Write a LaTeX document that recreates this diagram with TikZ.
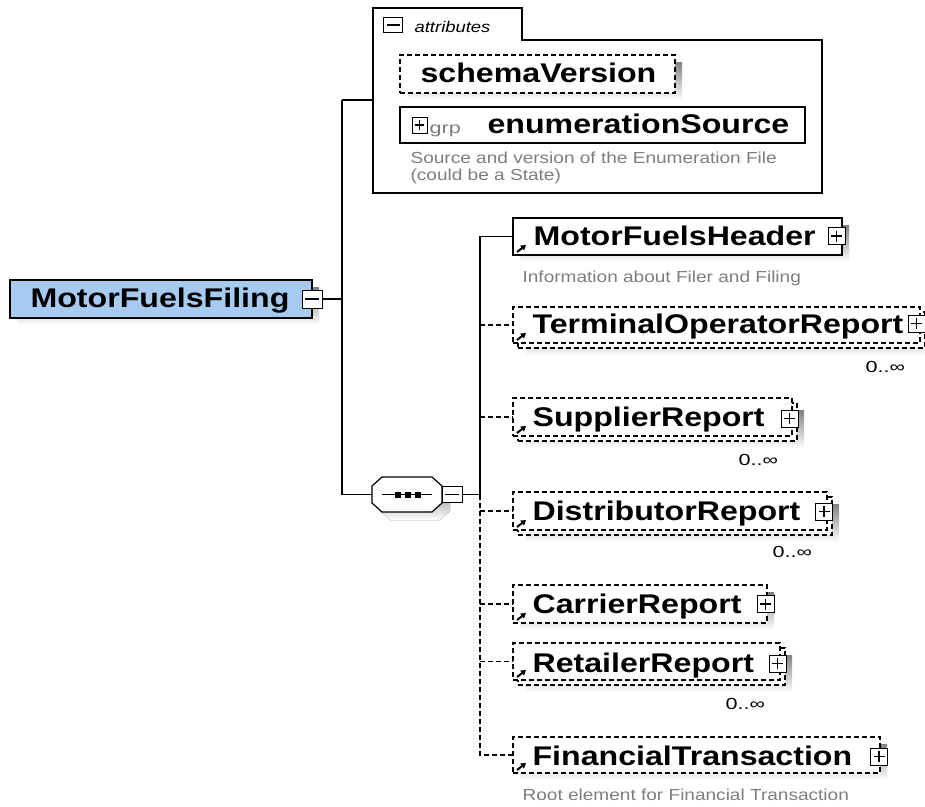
\documentclass[tikz,border=0pt]{standalone}
\usepackage{fontspec}
\setmainfont{Liberation Sans}
\newfontfamily\lsans[FakeStretch=1.19]{Liberation Sans}
\newfontfamily\lwide[FakeStretch=1.35]{Liberation Sans}
\usetikzlibrary{arrows.meta,calc}
\definecolor{fillblue}{RGB}{166,202,240}
\definecolor{shade}{RGB}{192,192,192}
\definecolor{desc}{RGB}{125,125,125}
\begin{document}
\begin{tikzpicture}[x=1pt,y=-1pt,line width=1.2pt,
  big/.style={font=\fontsize{27}{30}\selectfont\lsans\bfseries,inner sep=0,anchor=base west},
  small/.style={font=\fontsize{16}{19}\selectfont\lsans,text=desc,inner sep=0,anchor=base west},
  occ/.style={font=\fontsize{16}{18}\selectfont\lwide,inner sep=0,anchor=base west},
  ebox/.style={draw,fill=white,anchor=north west,inner sep=0,outer sep=0},
  dbox/.style={ebox,dash pattern=on 5pt off 3pt},
  dline/.style={dash pattern=on 5pt off 3pt},
  pmbox/.style={draw,fill=white,line width=1pt,inner sep=0,outer sep=0,minimum width=17pt,minimum height=17pt,
    path picture={\draw[line width=1.2pt,shorten <=3pt,shorten >=3pt] (path picture bounding box.west) -- (path picture bounding box.east);}},
  plusbox/.style={pmbox,
    path picture={\draw[line width=1.2pt,shorten <=3pt,shorten >=3pt] (path picture bounding box.west) -- (path picture bounding box.east);
      \draw[line width=1.2pt,shorten <=3pt,shorten >=3pt] (path picture bounding box.north) -- (path picture bounding box.south);}},
  refarrow/.style={-{Triangle[length=5pt,width=6pt]},line width=2pt}
]
\useasboundingbox (0,0) rectangle (925,806);

% ---------- root element ----------
\fill[shade] (17,287) rectangle (319,325);
\node[ebox,fill=fillblue,minimum width=302pt,minimum height=38pt] (mff) at (10,280) {};
\node[big] (mfft) at (30,307) {MotorFuelsFiling};
\node[pmbox,minimum width=20pt,minimum height=18pt] (mffm) at (312,299) {};

% ---------- attributes ----------
\draw (373,193) -- (373,8) -- (522,8) -- (522,40) -- (822,40) -- (822,193) -- cycle;
\coordinate (attL) at (373,100);
\node[pmbox,minimum width=19pt,minimum height=15pt] (attm) at (393,25) {};
\node[font=\fontsize{15.5}{18}\selectfont\lsans\itshape,inner sep=0,anchor=base west] (attt) at (414,32) {attributes};

\fill[shade] (407,62) rectangle (682,100);
\node[dbox,minimum width=275pt,minimum height=38pt] (sv) at (400,55) {};
\node[big] (svt) at (420,82) {schemaVersion};

\node[ebox,minimum width=405pt,minimum height=36pt] (es) at (400,107) {};
\node[plusbox,minimum width=15pt,minimum height=16pt] (esp) at (419.5,125) {};
\node[small,font=\fontsize{16}{19}\selectfont\lwide] (grp) at (429,133) {grp};
\node[big] (est) at (487,133) {enumerationSource};
\node[small] (esd1) at (410,163) {Source and version of the Enumeration File};
\node[small] (esd2) at (410,180) {(could be a State)};

% ---------- sequence compositor ----------
\fill[shade] (380,493) -- (390,485) -- (440,485) -- (450,493) -- (450,511) -- (440,520) -- (390,520) -- (380,511) -- cycle;
\draw[fill=white] (372,486) -- (382,477) -- (432,477) -- (442,486) -- (442,503) -- (432,512) -- (382,512) -- (372,503) -- cycle;
\coordinate (seqL) at (372,494.5);
\draw[line width=1pt] (382,494.5) -- (432,494.5);
\foreach \sx in {397.5,407.5,417.5} \fill (\sx-3,491.5) rectangle (\sx+3,497.5);
\node[pmbox,minimum width=20pt,minimum height=16pt] (seqm) at (452,494.5) {};

% ---------- children ----------
% MotorFuelsHeader
\fill[shade] (520,225) rectangle (849,262);
\node[ebox,minimum width=329pt,minimum height=37pt] (mfh) at (513,218) {};
\node[big] (mfht) at (533,245) {MotorFuelsHeader};
\node[plusbox] (mfhp) at (836.5,236) {};
\node[small] (mfhd) at (522,282) {Information about Filer and Filing};

% TerminalOperatorReport
\fill[shade] (525,319) rectangle (932,355);
\node[dbox,minimum width=407pt,minimum height=36pt] (torb) at (518,312) {};
\node[dbox,minimum width=407pt,minimum height=36pt] (tor) at (513,307) {};
\node[big] (tort) at (532,333) {TerminalOperatorReport};
\node[plusbox] (torp) at (916.5,323.5) {};
\node[occ] (toro) at (865,372) {0..∞};

% SupplierReport
\fill[shade] (525,410) rectangle (804,448);
\node[dbox,minimum width=279pt,minimum height=38pt] (srb) at (518,403) {};
\node[dbox,minimum width=279pt,minimum height=38pt] (sr) at (513,398) {};
\node[big] (srt) at (532,426) {SupplierReport};
\node[plusbox] (srp) at (789.5,418.5) {};
\node[occ] (sro) at (738,465) {0..∞};

% DistributorReport
\fill[shade] (525,504) rectangle (839,542);
\node[dbox,minimum width=314pt,minimum height=38pt] (drb) at (518,497) {};
\node[dbox,minimum width=314pt,minimum height=38pt] (dr) at (513,492) {};
\node[big] (drt) at (532,520) {DistributorReport};
\node[plusbox] (drp) at (824,511.5) {};
\node[occ] (dro) at (772,557) {0..∞};

% CarrierReport
\fill[shade] (520,592) rectangle (774,630);
\node[dbox,minimum width=254pt,minimum height=38pt] (cr) at (513,585) {};
\node[big] (crt) at (532,613) {CarrierReport};
\node[plusbox] (crp) at (765.5,604) {};

% RetailerReport
\fill[shade] (525,655) rectangle (792,692);
\node[dbox,minimum width=267pt,minimum height=37pt] (rrb) at (518,648) {};
\node[dbox,minimum width=267pt,minimum height=37pt] (rr) at (513,643) {};
\node[big] (rrt) at (532,672) {RetailerReport};
\node[plusbox] (rrp) at (777.5,663.5) {};
\node[occ] (rro) at (725,709) {0..∞};

% FinancialTransaction
\fill[shade] (520,744) rectangle (887,780);
\node[dbox,minimum width=367pt,minimum height=36pt] (ft) at (513,737) {};
\node[big] (ftt) at (532,765) {FinancialTransaction};
\node[plusbox] (ftp) at (879,756.5) {};
\node[small] (ftd) at (522,800) {Root element for Financial Transaction};

% reference arrows
\foreach \b in {mfh,tor,sr,dr,cr,rr,ft}
  \draw[refarrow] ($(\b.south west)+(4,-3)$) -- ($(\b.south west)+(13,-10)$);

% ---------- connectors ----------
\coordinate (v1top) at (342,100);
\coordinate (v1bot) at (342,494.5);
\coordinate (v2mid) at (480,494.5);
\draw (mffm.east) -- (mffm.east -| v1top);
\draw (v1top) -- (v1bot);
\draw (v1top) -- (attL);
\draw (v1bot) -- (seqL);
\draw (seqm.east) -- (v2mid);
\draw (v2mid) -- (v2mid |- mfh.west) -- (mfh.west);
\draw[dline] (v2mid) -- (v2mid |- ft.west) -- (ft.west);
\foreach \b in {tor,sr,dr,cr,rr}
  \draw[dline] (v2mid |- \b.west) -- (\b.west);
\end{tikzpicture}
\end{document}
